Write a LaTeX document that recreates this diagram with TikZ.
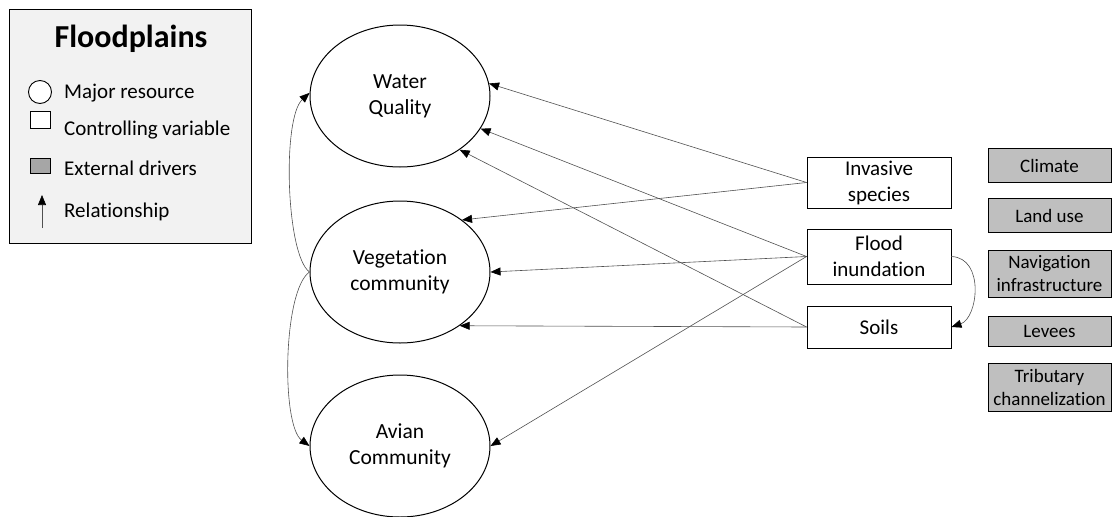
\documentclass[tikz,border=0pt]{standalone}
\usepackage{fontspec}
\setmainfont{Carlito}[Ligatures={NoCommon}]
\usetikzlibrary{arrows.meta,shapes.geometric}
\definecolor{legendbg}{HTML}{F2F2F2}
\definecolor{drivergray}{HTML}{BFBFBF}
\definecolor{keygray}{HTML}{A6A6A6}
\definecolor{linkgray}{HTML}{505050}
\tikzset{
  resource/.style={ellipse, draw=black, line width=1pt, minimum width=180pt, minimum height=142pt,
    align=center, font=\fontsize{21.5}{26}\selectfont},
  control/.style={rectangle, draw=black, line width=0.9pt, fill=white, minimum width=144pt,
    align=center, font=\fontsize{21}{26}\selectfont},
  driver/.style={rectangle, draw=black, line width=0.9pt, fill=drivergray, minimum width=123pt,
    align=center, font=\fontsize{19}{23}\selectfont},
  link/.style={draw=linkgray, line width=0.6pt, -{Triangle[length=10pt,width=8pt,color=black]}},
  keytext/.style={anchor=west, font=\fontsize{21}{25}\selectfont, inner sep=0pt},
}
\begin{document}
\begin{tikzpicture}[x=1pt,y=-1pt]
\useasboundingbox (0,0) rectangle (1112,517);

% legend
\node (legend) [draw=black, line width=0.9pt, fill=legendbg, minimum width=242pt, minimum height=234pt,
  anchor=north west, inner sep=0pt] at (9,9) {};
\node (title) [font=\fontsize{32}{36}\bfseries\selectfont] at (131,39) {Floodplains};
\node (kres) [circle, draw=black, line width=0.9pt, fill=white, minimum size=23pt, inner sep=0pt] at (40,92) {};
\node (kresT) [keytext] at (64,93) {Major resource};
\node (kctl) [rectangle, draw=black, line width=0.9pt, fill=white, minimum width=20pt, minimum height=17pt, inner sep=0pt] at (40.5,120) {};
\node (kctlT) [keytext] at (64,130) {Controlling variable};
\node (kdrv) [rectangle, draw=black, line width=0.9pt, fill=keygray, minimum width=20pt, minimum height=15pt, inner sep=0pt] at (40.5,166) {};
\node (kdrvT) [keytext] at (64,168) {External drivers};
\coordinate (krelA) at (42,228);
\coordinate (krelB) at (42,195);
\draw[link] (krelA) -- (krelB);
\node (krelT) [keytext] at (64,212) {Relationship};

% major resources
\node (wq) [resource] at (400,96) {Water\\Quality};
\node (veg) [resource] at (400,272) {Vegetation\\community};
\node (avi) [resource] at (400,446) {Avian\\Community};

% controlling variables
\node (inv) [control, minimum height=51pt] at (879,182.5) {Invasive\\species};
\node (fld) [control, minimum height=55pt] at (879,256.5) {Flood\\inundation};
\node (soi) [control, minimum height=42pt] at (879,327) {Soils};

% external drivers
\node (cli) [driver, minimum height=34pt] at (1049.5,165.5) {Climate};
\node (lan) [driver, minimum height=34pt] at (1049.5,215.5) {Land use};
\node (nav) [driver, minimum height=47pt] at (1049.5,274) {Navigation\\infrastructure};
\node (lev) [driver, minimum height=30pt] at (1049.5,331) {Levees};
\node (tri) [driver, minimum height=48pt] at (1049.5,387) {Tributary\\channelization};

% relationships
\draw[link] (inv.west) -- (wq.8);
\draw[link] (inv.west) -- (veg.40);
\draw[link] (fld.west) -- (wq.-22);
\draw[link] (fld.west) -- (veg.east);
\draw[link] (fld.west) -- (avi.east);
\draw[link] (soi.west) -- (wq.-42);
\draw[link] (soi.west) -- (veg.-42);
\draw[link] (fld.east) .. controls (985,258) and (978,318) .. (soi.east);
\draw[link] (veg.west) .. controls (286,255) and (282,118) .. (wq.178);
\draw[link] (veg.west) .. controls (283,290) and (281,425) .. (avi.west);
\end{tikzpicture}
\end{document}
